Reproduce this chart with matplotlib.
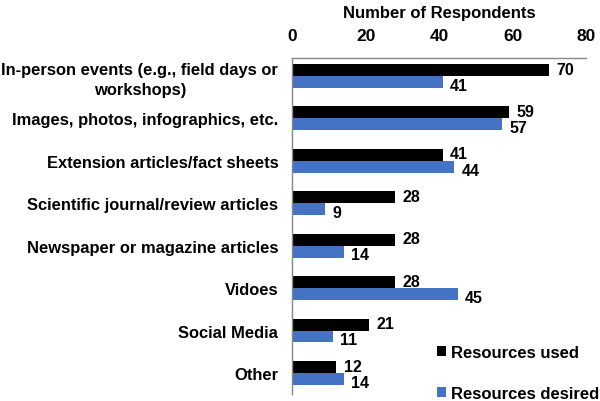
import matplotlib.pyplot as plt
import numpy as np

plt.rcParams['font.family'] = ['Liberation Sans', 'DejaVu Sans']
plt.rcParams['font.weight'] = 'bold'

categories = ['In-person events (e.g., field days or\nworkshops)',
              'Images, photos, infographics, etc.',
              'Extension articles/fact sheets',
              'Scientific journal/review articles',
              'Newspaper or magazine articles',
              'Vidoes',
              'Social Media',
              'Other']
used = [70, 59, 41, 28, 28, 28, 21, 12]
desired = [41, 57, 44, 9, 14, 45, 11, 14]

fig = plt.figure(figsize=(6, 4.02), dpi=100)
ax = fig.add_axes([0.487, 0.017, 0.49, 0.836])

y = np.arange(len(categories))
h = 0.28
b1 = ax.barh(y - h / 2, used, height=h, color='black', label='Resources used')
b2 = ax.barh(y + h / 2, desired, height=h, color='#4472C4', label='Resources desired')

for bars, dy in ((b1, -0.02), (b2, 0.08)):
    for r in bars:
        ax.text(r.get_width() + 2.0, r.get_y() + r.get_height() / 2 + dy,
                str(int(r.get_width())), va='center', ha='left',
                fontsize=11.5, fontweight='bold')

ax.set_xlim(0, 80)
ax.set_ylim(len(categories) - 0.5, -0.42)
ax.set_xticks([0, 20, 40, 60, 80])
ax.xaxis.tick_top()
ax.xaxis.set_label_position('top')
ax.set_xlabel('Number of Respondents', fontsize=12, fontweight='bold', labelpad=8)
ax.tick_params(axis='x', length=0, labelsize=12.5, pad=11)
ax.tick_params(axis='y', length=0, labelsize=11.9, pad=10)
ax.set_yticks(y)
ax.set_yticklabels(categories, ha='right', multialignment='center', linespacing=1.4)

for s in ['bottom', 'right']:
    ax.spines[s].set_visible(False)
for s in ['top', 'left']:
    ax.spines[s].set_color('#888888')
    ax.spines[s].set_linewidth(1)

ax.legend(loc='lower right', bbox_to_anchor=(1.095, -0.066), frameon=False,
          fontsize=12, handlelength=0.55, handleheight=0.55, handletextpad=0.3,
          labelspacing=1.6)

fig.savefig('out.png', dpi=100)
